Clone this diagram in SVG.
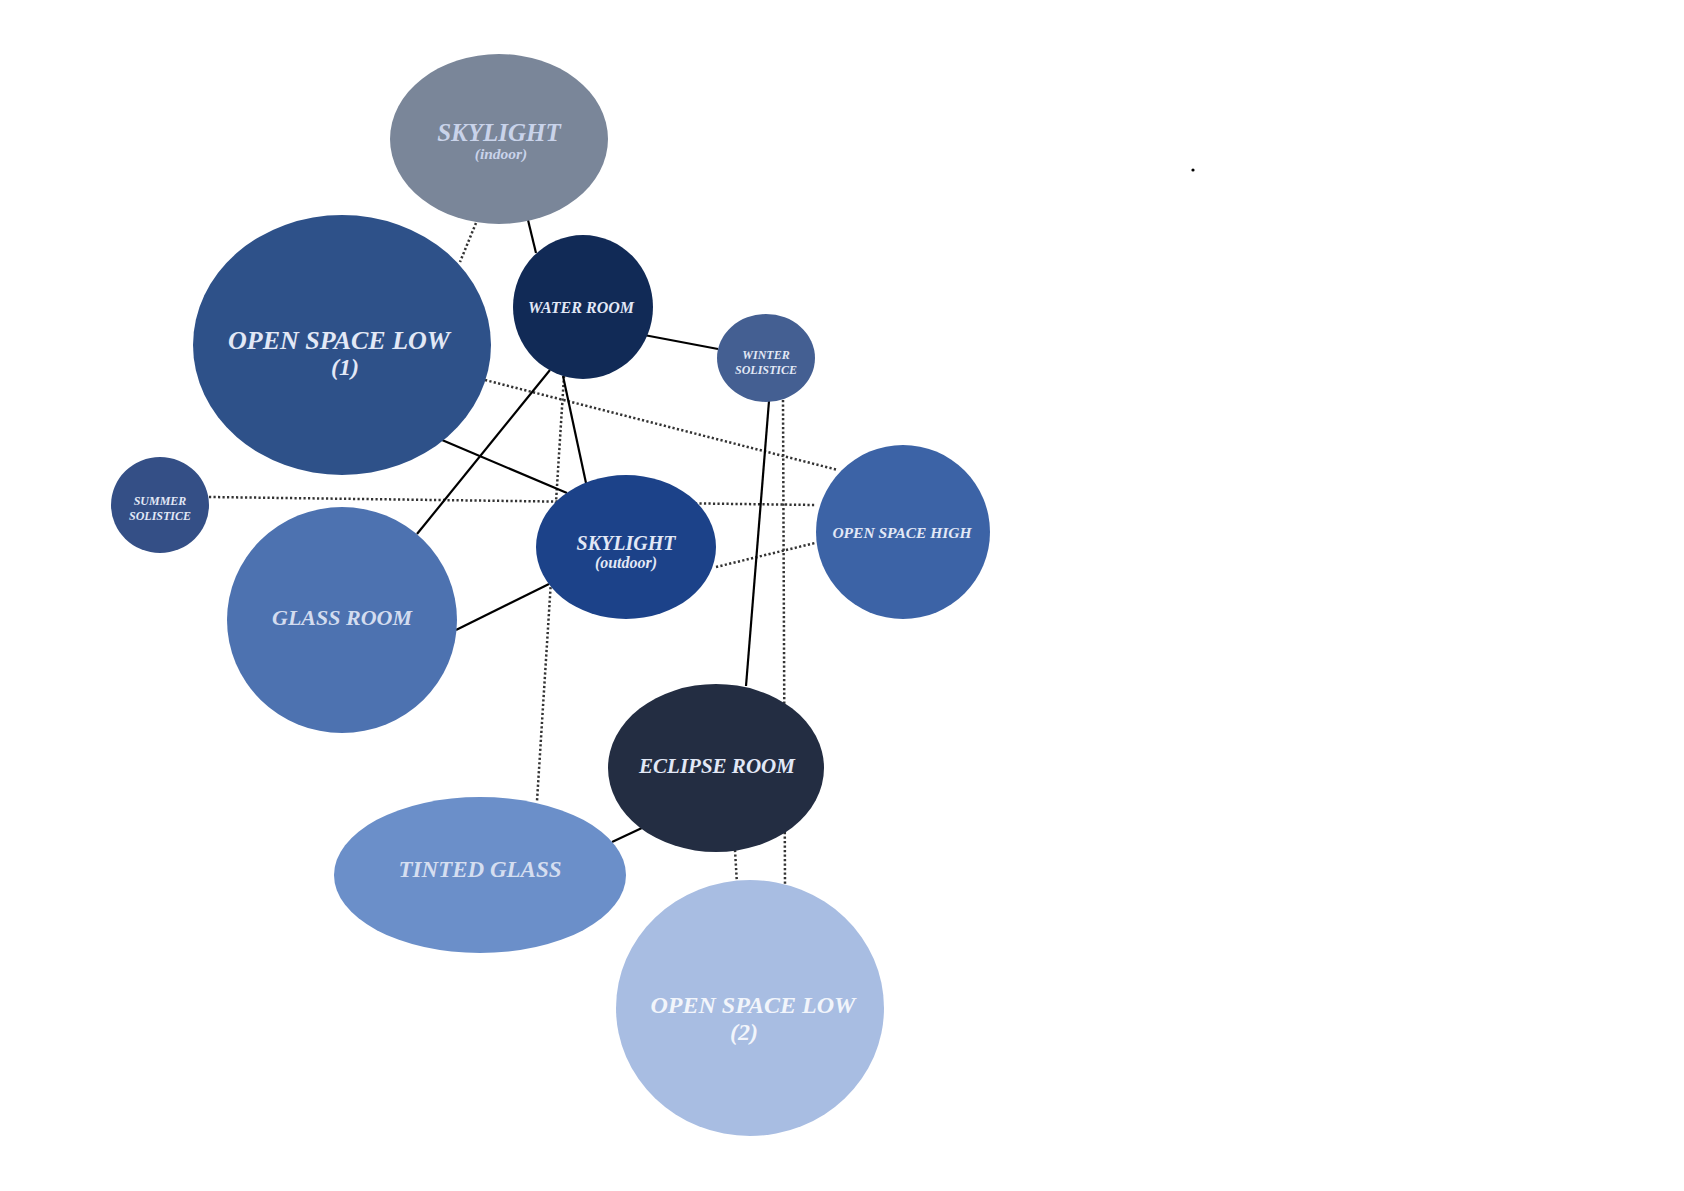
<svg xmlns="http://www.w3.org/2000/svg" width="1684" height="1191" viewBox="0 0 1684 1191">
<style>
.lbl{font-family:"Liberation Serif","Times New Roman",serif;font-weight:bold;font-style:italic;fill:#e2e8f6;text-anchor:middle}
.solid{stroke:#000;stroke-width:2.2;fill:none}
.dot{stroke:#333;stroke-width:2.5;stroke-dasharray:2.2 2.3;fill:none}
</style>
<rect width="1684" height="1191" fill="#fff"/>
<g id="connectors">
<line class="dot" x1="476" y1="223" x2="460" y2="262"/>
<line class="dot" x1="485" y1="380" x2="838" y2="470"/>
<line class="dot" x1="209" y1="497" x2="816" y2="505"/>
<line class="dot" x1="716" y1="567" x2="815" y2="543"/>
<line class="dot" x1="564" y1="376" x2="537" y2="801"/>
<line class="dot" x1="783" y1="400" x2="785" y2="884"/>
<line class="dot" x1="735" y1="850" x2="737" y2="884"/>
<line class="solid" x1="528" y1="220" x2="536" y2="253"/>
<line class="solid" x1="644" y1="335" x2="718" y2="349"/>
<line class="solid" x1="550" y1="370" x2="417" y2="534"/>
<line class="solid" x1="563" y1="376" x2="586" y2="483"/>
<line class="solid" x1="442" y1="440" x2="567" y2="493"/>
<line class="solid" x1="456" y1="630" x2="549" y2="584"/>
<line class="solid" x1="769" y1="401" x2="746" y2="686"/>
<line class="solid" x1="612" y1="842" x2="644" y2="827"/>
</g>
<g id="skylight-indoor">
<ellipse cx="499" cy="139" rx="109" ry="85" fill="#7a8699"/>
<text class="lbl" x="499" y="141" font-size="25" style="fill:#c9d3ea">SKYLIGHT</text>
<text class="lbl" x="501" y="159" font-size="15.5" style="fill:#c9d3ea">(indoor)</text>
</g>
<g id="open-space-low-1">
<ellipse cx="342" cy="345" rx="149" ry="130" fill="#2e5189"/>
<text class="lbl" x="339" y="349" font-size="26">OPEN SPACE LOW</text>
<text class="lbl" x="345" y="375" font-size="24">(1)</text>
</g>
<g id="water-room">
<ellipse cx="583" cy="307" rx="70" ry="72" fill="#112a56"/>
<text class="lbl" x="581" y="313" font-size="16">WATER ROOM</text>
</g>
<g id="winter-solstice">
<ellipse cx="766" cy="358" rx="49" ry="44" fill="#445f92"/>
<text class="lbl" x="766" y="359" font-size="12">WINTER</text>
<text class="lbl" x="766" y="374" font-size="12">SOLISTICE</text>
</g>
<g id="summer-solstice">
<ellipse cx="160" cy="505" rx="49" ry="48" fill="#344f86"/>
<text class="lbl" x="160" y="505" font-size="12">SUMMER</text>
<text class="lbl" x="160" y="520" font-size="12">SOLISTICE</text>
</g>
<g id="glass-room">
<ellipse cx="342" cy="620" rx="115" ry="113" fill="#4d72b0"/>
<text class="lbl" x="342" y="625" font-size="22" style="fill:#d3dcef">GLASS ROOM</text>
</g>
<g id="skylight-outdoor">
<ellipse cx="626" cy="547" rx="90" ry="72" fill="#1c4289"/>
<text class="lbl" x="626" y="550" font-size="20">SKYLIGHT</text>
<text class="lbl" x="626" y="568" font-size="16">(outdoor)</text>
</g>
<g id="open-space-high">
<ellipse cx="903" cy="532" rx="87" ry="87" fill="#3c63a6"/>
<text class="lbl" x="902" y="538" font-size="15.5">OPEN SPACE HIGH</text>
</g>
<g id="eclipse-room">
<ellipse cx="716" cy="768" rx="108" ry="84" fill="#232d42"/>
<text class="lbl" x="717" y="773" font-size="21">ECLIPSE ROOM</text>
</g>
<g id="tinted-glass">
<ellipse cx="480" cy="875" rx="146" ry="78" fill="#6b8fc9"/>
<text class="lbl" x="480" y="877" font-size="23" style="fill:#d5def0">TINTED GLASS</text>
</g>
<g id="open-space-low-2">
<ellipse cx="750" cy="1008" rx="134" ry="128" fill="#a8bde2"/>
<text class="lbl" x="753" y="1013" font-size="24" style="fill:#f2f5fb">OPEN SPACE LOW</text>
<text class="lbl" x="744" y="1040" font-size="24" style="fill:#f2f5fb">(2)</text>
</g>
<circle cx="1193" cy="170" r="1.6" fill="#000"/>
</svg>
